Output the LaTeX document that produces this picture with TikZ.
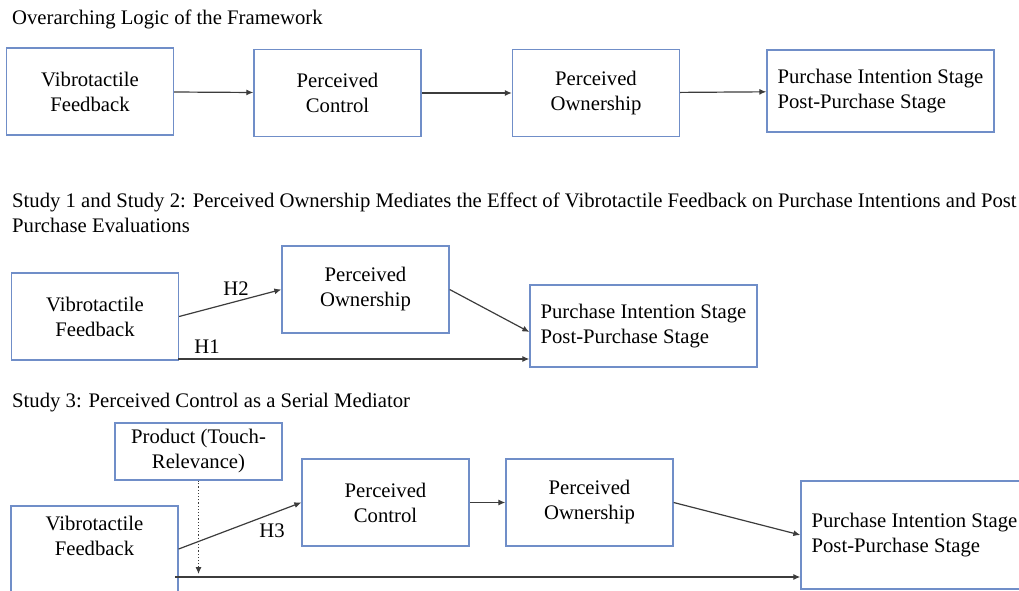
\documentclass[tikz,border=0pt]{standalone}
\usepackage{fontspec}
\setmainfont{LiberationSerif}[Extension=.ttf,UprightFont=*-Regular,BoldFont=*-Bold,ItalicFont=*-Italic,BoldItalicFont=*-BoldItalic]
\usepackage{tikz}
\usetikzlibrary{arrows.meta, positioning}
\definecolor{boxblue}{RGB}{112,142,200}
\definecolor{arrowgray}{RGB}{60,60,60}
\newcommand{\figfont}{\fontsize{20.7}{25}\selectfont}
\tikzstyle{box}=[shape=rectangle,draw=boxblue,line width=1.3pt,minimum width=167,minimum height=87,inner sep=0pt,align=center,font=\figfont]
\tikzstyle{stagebox}=[box,minimum width=227,minimum height=82,align=left]
\tikzstyle{heading}=[anchor=base west,inner sep=0pt,align=left,font=\figfont]
\tikzstyle{hlabel}=[anchor=base,inner sep=0pt,font=\figfont]
\tikzstyle{mainedge}=[<-,draw=arrowgray,line width=1.2pt,>={Latex[length=7pt,width=6pt]}]
\tikzstyle{dotedge}=[mainedge,dotted,line width=1pt]

\begin{document}
\begin{tikzpicture}[x=1pt,y=-1pt]
\useasboundingbox (0,0) rectangle (1019,591);

% 1st row
\node[heading] (t1) at (12,25) {Overarching Logic of the Framework};
\node[box]      (vf1) at (90,91.5) {Vibrotactile\\Feedback};
\node[box]      (pc1) at (337.5,93) {Perceived\\Control}     edge[mainedge] (vf1);
\node[box]      (po1) at (596,93)   {Perceived\\Ownership}   edge[mainedge] (pc1);
\node[stagebox] (ps1) at (880.5,91) {Purchase Intention Stage\\Post-Purchase Stage} edge[mainedge] (po1);

% 2nd row (base anchor sits on the last line)
\node[heading] (t2) at (12,232) {Study 1 and Study 2: Perceived Ownership Mediates the Effect of Vibrotactile Feedback on Purchase Intentions and Post\\Purchase Evaluations};
\node[box]      (vf2) at (95,316.5)   {Vibrotactile\\Feedback};
\node[box]      (po2) at (365.5,289.5) {Perceived\\Ownership};
\node[stagebox] (ps2) at (643.5,326)  {Purchase Intention Stage\\Post-Purchase Stage};
\coordinate (h1) at (178,359);
\draw[mainedge] (po2.west) -- (vf2.east);
\draw[mainedge] ([yshift=-6pt]ps2.west) -- (po2.east);
\draw[mainedge] (h1 -| ps2.west) -- (h1);
\node[hlabel] (lh2) at (236,295) {H2};
\node[hlabel] (lh1) at (207,353) {H1};

% 3rd row
\node[heading] (t3) at (12,407) {Study 3: Perceived Control as a Serial Mediator};
\node[box,minimum height=57] (pt) at (198.5,451.5) {Product (Touch-\\Relevance)};
\node[box,minimum height=114] (vf3) at (94.5,563) {};
\node[inner sep=0pt,align=center,font=\figfont] (vf3txt) at (94.5,536) {Vibrotactile\\Feedback};
\node[box]      (pc3) at (385.5,502.5) {Perceived\\Control};
\node[box]      (po3) at (589.5,502.5) {Perceived\\Ownership} edge[mainedge] (pc3);
\node[stagebox,minimum height=108] (ps3) at (914.5,535) {Purchase Intention Stage\\Post-Purchase Stage};
\coordinate (lo3) at (175,577);
\coordinate (mod) at (198.5,574);
\draw[mainedge] (pc3.west) -- (vf3.east |- 0,549);
\draw[mainedge] (ps3.west) -- (po3.east);
\draw[mainedge] (lo3 -| ps3.west) -- (lo3);
\draw[dotedge] (mod) -- (pt.south);
\node[hlabel] (lh3) at (272,537) {H3};

\end{tikzpicture}
\end{document}
